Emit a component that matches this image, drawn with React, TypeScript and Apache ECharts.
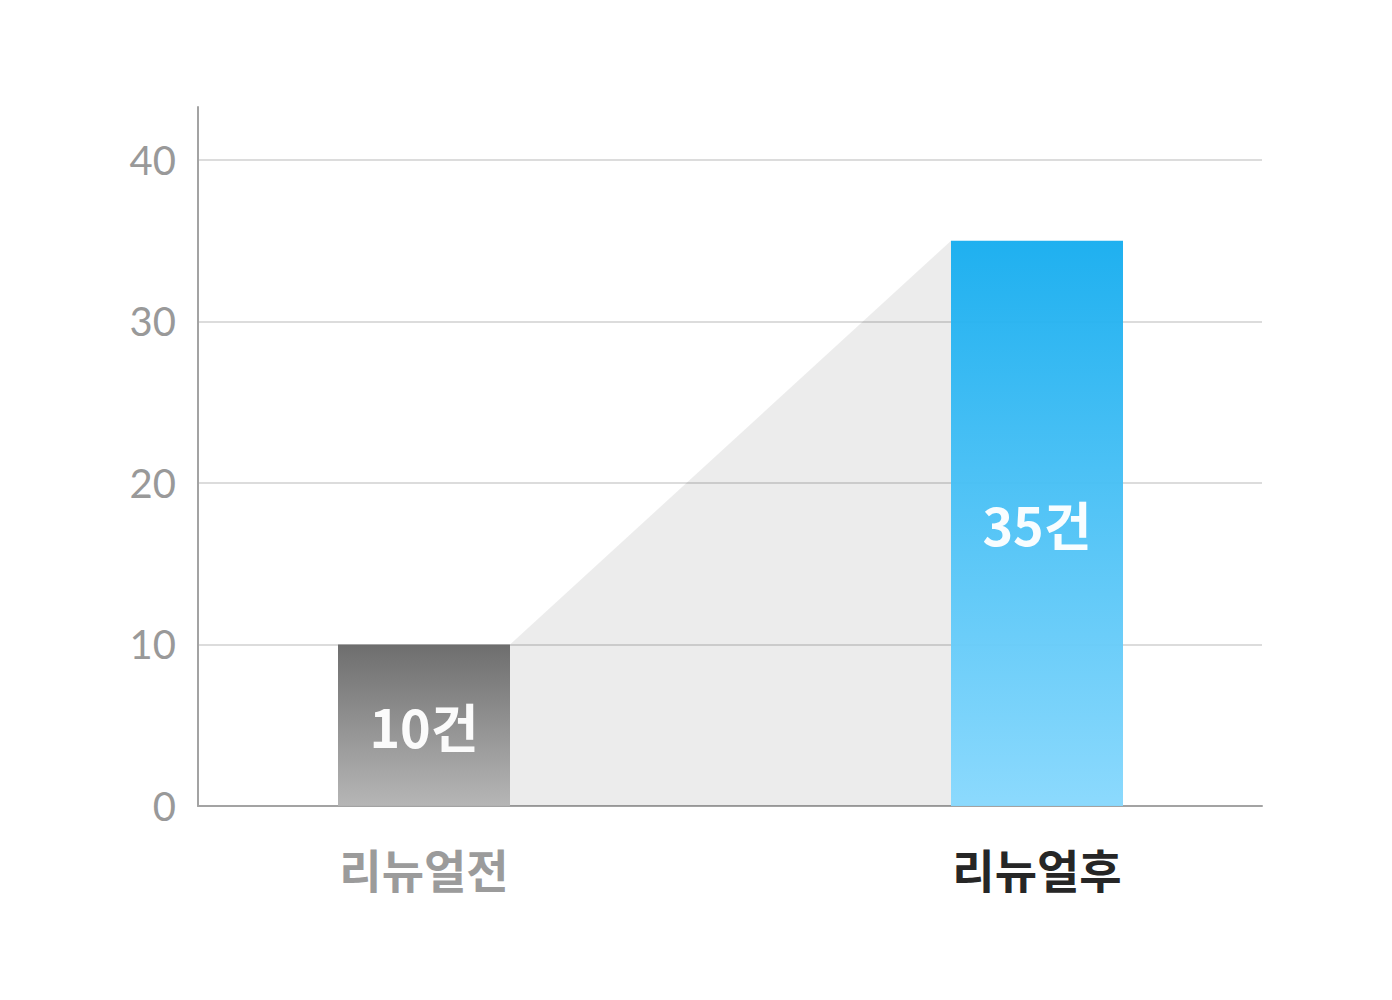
import React, { useEffect, useRef } from "react";
import * as echarts from "echarts";

const categories = ["리뉴얼전", "리뉴얼후"];
const values = [10, 35];
const valueLabels = ["10건", "35건"];
const yTicks = [0, 10, 20, 30, 40];
const yMax = 43.28;

export default function App() {
  const ref = useRef<HTMLDivElement>(null);
  useEffect(() => {
    if (!ref.current) return;
    const chart = echarts.init(ref.current, null, { renderer: "svg" });
    const barW = 172;
    const grads = [
      new echarts.graphic.LinearGradient(0, 0, 0, 1, [
        { offset: 0, color: "#686868" },
        { offset: 1, color: "#b3b3b3" },
      ]),
      new echarts.graphic.LinearGradient(0, 0, 0, 1, [
        { offset: 0, color: "#16adef" },
        { offset: 1, color: "#87d8fd" },
      ]),
    ];
    chart.setOption({
      animation: false,
      grid: [
        { left: 198, right: 130, top: 107, bottom: 194 },
        { left: 424, right: 355, top: 107, bottom: 194 },
      ],
      xAxis: [
        {
          type: "value",
          gridIndex: 0,
          min: 0,
          max: 1,
          axisLine: { show: true, lineStyle: { color: "#a3a3a3", width: 2 } },
          axisTick: { show: false },
          axisLabel: { show: false },
          splitLine: { show: false },
        },
        {
          type: "category",
          gridIndex: 1,
          data: categories,
          boundaryGap: false,
          axisLine: { show: false },
          axisTick: { show: false },
          axisLabel: {
            margin: 39,
            formatter: (v: string, i: number) => `{c${i}|${v}}`,
            rich: {
              c0: {
                fontSize: 46,
                fontWeight: "bold",
                color: "#9b9b9b",
                fontFamily: "Noto Sans CJK KR",
              },
              c1: {
                fontSize: 46,
                fontWeight: "bold",
                color: "#262626",
                fontFamily: "Noto Sans CJK KR",
              },
            },
          },
          splitLine: { show: false },
        },
      ],
      yAxis: [
        {
          type: "value",
          gridIndex: 0,
          min: 0,
          max: yMax,
          interval: 10,
          axisLine: { show: true, lineStyle: { color: "#a3a3a3", width: 2 } },
          axisTick: { show: false },
          axisLabel: {
            showMaxLabel: false,
            margin: 22,
            color: "#999999",
            fontSize: 40,
            fontFamily: "Lato",
            formatter: (v: number) => (yTicks.includes(v) ? String(v) : ""),
          },
          splitLine: {
            show: true,
            showMinLine: false,
            showMaxLine: false,
            lineStyle: { color: "#dcdcdc", width: 2 },
          },
        },
        {
          type: "value",
          gridIndex: 1,
          min: 0,
          max: yMax,
          show: false,
          splitLine: { show: false },
        },
      ],
      series: [
        {
          type: "custom",
          xAxisIndex: 1,
          yAxisIndex: 1,
          silent: true,
          z: 1,
          data: [[0, values[0], 1, values[1]]],
          renderItem: (params: any, api: any) => {
            const a = api.coord([api.value(0), api.value(1)]);
            const b = api.coord([api.value(2), api.value(3)]);
            const base = api.coord([api.value(0), 0]);
            const h = barW / 2;
            return {
              type: "polygon",
              shape: {
                points: [
                  [a[0] + h, a[1]],
                  [b[0] - h, b[1]],
                  [b[0] - h, base[1]],
                  [a[0] + h, base[1]],
                ],
              },
              style: { fill: "rgba(0,0,0,0.075)" },
            };
          },
        },
        {
          type: "bar",
          xAxisIndex: 1,
          yAxisIndex: 1,
          barWidth: barW,
          clip: false,
          z: 2,
          data: values.map((v, i) => ({
            value: v,
            itemStyle: { color: grads[i], opacity: 0.96 },
          })),
          label: {
            show: true,
            position: "inside",
            color: "#ffffff",
            fontSize: 52,
            fontWeight: "bold",
            fontFamily: "Noto Sans CJK KR",
            formatter: (p: any) => valueLabels[p.dataIndex],
          },
        },
      ],
    });
    return () => chart.dispose();
  }, []);
  return (
    <div
      ref={ref}
      style={{ position: "absolute", left: 0, top: 0, width: 1392, height: 1000 }}
    />
  );
}
